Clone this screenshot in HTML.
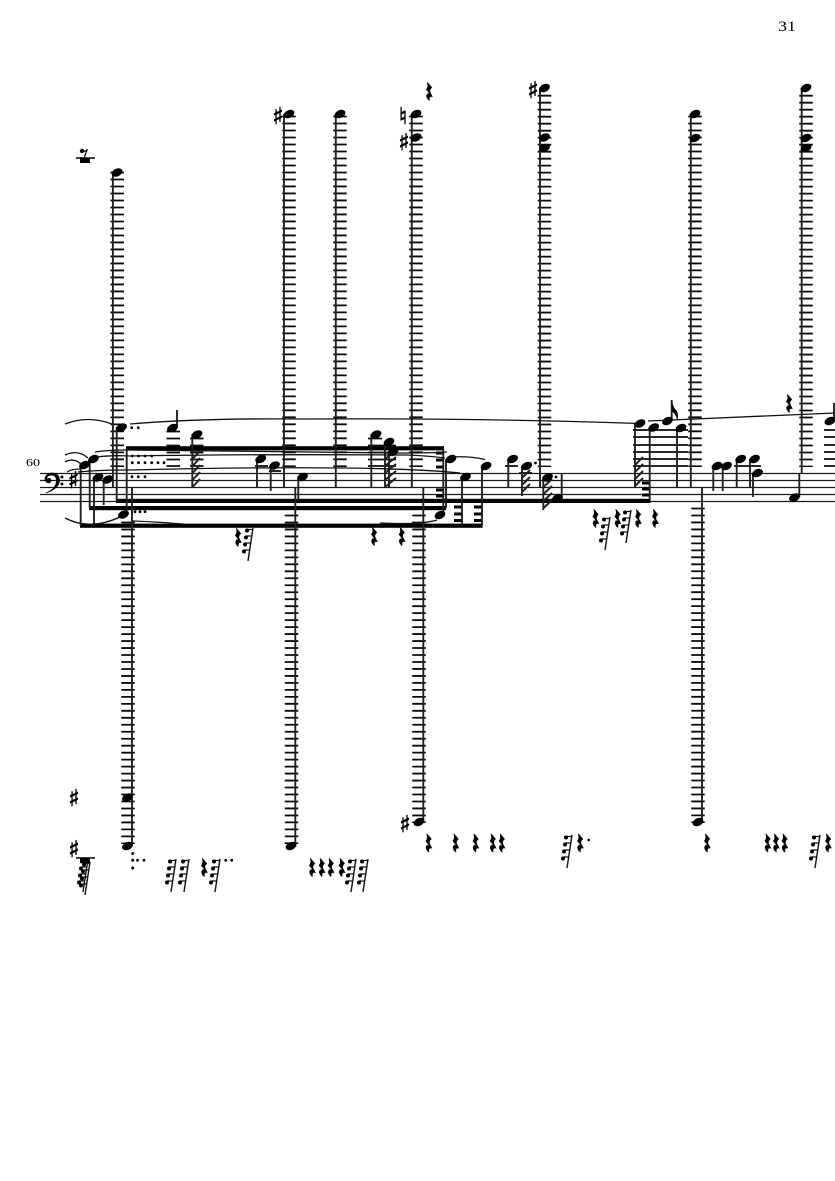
<!DOCTYPE html>
<html>
<head>
<meta charset="utf-8">
<style>
html,body{margin:0;padding:0;background:#fff;}
svg{display:block;}
.stem{stroke:#222;stroke-width:1.9;fill:none;}
.up{stroke:#0a0a0a;stroke-width:13.5;stroke-dasharray:1.8 5.196;fill:none;}
.lo{stroke:#0a0a0a;stroke-width:13.5;stroke-dasharray:1.8 5.175;fill:none;}
.led{stroke:#0a0a0a;stroke-width:1.7;fill:none;}
.staff{stroke:#1a1a1a;stroke-width:1.2;fill:none;}
.slur{fill:none;stroke:#111;stroke-width:1.3;}
.hatch{stroke:#222;stroke-width:2;fill:none;}
.acc{font-family:"DejaVu Sans",sans-serif;font-size:23px;fill:#000;stroke:#000;stroke-width:.7;text-anchor:middle;}
.num{font-family:"Liberation Serif",serif;fill:#000;}
</style>
</head>
<body>
<svg width="835" height="1181" viewBox="0 0 835 1181" xmlns="http://www.w3.org/2000/svg">
<defs>
<ellipse id="h" cx="0" cy="0" rx="5.7" ry="3.8" transform="rotate(-25)"/>
<path id="r" d="M-1.5-9 L3.2-3.5 Q0.3-1 1.5 1.5 L3.8 6 Q-0.3 4.8 0.8 9.5 L0 9.8 Q-4.2 6-1.8 2.6 Q-0.6 2 0.6 3 L-3-1.5 Q-0.6-4-2-8.5Z"/>
<g id="s">
<path d="M4 0 L-1 33" stroke="#111" stroke-width="1.4" fill="none"/>
<path d="M-2 1.5h6M-3 8h6M-4 15h6M-5 22h6" stroke="#111" stroke-width="1.2" fill="none"/>
<circle cx="-2" cy="2.5" r="2"/><circle cx="-3" cy="9.5" r="2"/><circle cx="-4" cy="16.5" r="2"/><circle cx="-5" cy="23.5" r="2"/>
</g>
</defs>
<rect width="835" height="1181" fill="#fff"/>

<text class="num" x="778" y="31" font-size="15" textLength="18" lengthAdjust="spacingAndGlyphs">31</text>
<text class="num" x="26" y="466" font-size="11" textLength="14" lengthAdjust="spacingAndGlyphs">60</text>

<path class="staff" d="M40 473.5H835M40 480.5H835M40 487.5H835M40 494.5H835M40 501.5H835"/>

<path stroke="#000" stroke-width=".8" d="M46 493 Q56 489 56.5 481 Q56.5 475 51 475 Q46.5 475.5 46.5 479.5 Q48.5 477.5 50.5 479 Q52 481.5 49 483 Q45 482.5 45 478.5 Q46.5 473 52 473 Q59.5 473.5 59.5 480.5 Q59 488.5 46 493Z"/>
<circle cx="62" cy="477" r="1.5"/><circle cx="62" cy="484" r="1.5"/>
<text class="acc" x="73.5" y="488">♯</text>

<path class="up" d="M117.2 171.6V467M289 115.6V467M340 115.6V467M416 115.6V467M544.5 94.8V467M695 115.6V467M806 94.8V467"/>
<path class="lo" d="M128 521.6V844M291.5 514.6V844M419 514.6V823M698 507.6V823"/>

<path class="led" d="M166.5 431.5H180M166.5 438.5H180M166.5 445.5H180M166.5 446.5H180M166.5 452.5H180M166.5 459.5H180M166.5 466H180"/>
<path class="led" d="M190 438.5H203.5M190 445.5H203.5M190 452.5H203.5M190 459.5H203.5M190 466H203.5"/>
<path class="led" d="M255 466H268M269 471H281"/>
<path class="led" d="M368 438.5H382M368 445.5H382M368 452.5H382M368 459.5H382M368 466H382"/>
<path class="led" d="M382 445.5H396M382 452.5H396M382 459.5H396M382 466H396"/>
<path class="led" d="M505 466H518M519 473H532"/>
<path class="led" d="M633 430H688M633 437H688M633 445H688M633 452H688M633 459H688M633 466H688"/>
<path class="led" d="M734 466H761"/>
<path class="led" d="M824 430H835M824 437H835M824 445H835M824 452H835M824 459H835M824 466H835"/>

<rect x="116" y="498.8" width="534.5" height="4.2"/>
<rect x="89" y="506" width="357" height="4.2"/>
<rect x="80" y="523.6" width="402.5" height="4.2"/>
<rect x="126" y="446.2" width="318" height="4.2"/>

<path d="M436 451.5h7.5v3h-7.5zM436 458.5h7.5v3h-7.5zM436 465.5h7.5v3h-7.5zM436 488.5h7.5v3h-7.5zM436 494.5h7.5v3h-7.5z"/>
<path d="M454 505.5h7.7v3h-7.7zM454 512.5h7.7v3h-7.7zM454 519h7.7v3h-7.7z"/>
<path d="M474 505.5h7.7v3h-7.7zM474 512.5h7.7v3h-7.7zM474 519h7.7v3h-7.7z"/>
<path d="M642 481.5h8v3h-8zM642 487.5h8v3h-8zM642 493.5h8v3h-8z"/>

<path class="stem" d="M80.7 465V526M89.7 459V508M94 477V526M103.7 479V505M112.9 172V487M116.7 427V501M126.7 448V515M132 487V846M177 428V410M192.3 434V487M257 459V487M270.7 465V491M284 114V487M295.3 487V846M298.3 477V501M335.8 114V487M371.3 434V487M385 442V487M389 452V487M411.8 114V487M423.3 487V822M443.3 448V515M446 459V508M462 477V526M482 466V526M508.3 459V487M522 466V496M540 88V487M543.3 477V510M561.7 473V499M635 423V487M649.7 428V500M671.7 421V400M677 428V487M690.8 114V487M702 487V822M713.3 466V491M722.7 466V491M736.7 459V487M750 459V487M753 473V497M799.3 497V473M801.7 88V473M834 421V403"/>
<path d="M671.7 400 Q673 408 677 411 Q679 416 677 421 Q677 415 671.7 411Z"/>

<path class="hatch" d="M192.5 459L200 451M192.5 466L200 458M192.5 473L200 465M192.5 480L200 472M192.5 487L200 479"/>
<path class="hatch" d="M385 459L396 450M385 466L396 457M385 473L396 464M385 480L396 471M385 487L396 478"/>
<path class="hatch" d="M522 478L530 470M522 485L530 477M522 492L530 484"/>
<path class="hatch" d="M543.5 487L552 479M543.5 494L552 486M543.5 501L552 493M543.5 508L552 500"/>
<path class="hatch" d="M635 465L643 457M635 472L643 464M635 479L643 471M635 486L643 478"/>

<g fill="#000">
<use href="#h" x="84.5" y="465"/><use href="#h" x="93.5" y="459"/><use href="#h" x="98" y="477.5"/><use href="#h" x="107.7" y="479.5"/>
<use href="#h" x="117" y="172.5"/><use href="#h" x="121.5" y="427.5"/><use href="#h" x="123.5" y="514.5"/><use href="#h" x="127.5" y="797.5"/>
<use href="#h" x="127.5" y="846"/><use href="#h" x="172.5" y="428"/><use href="#h" x="197" y="434.5"/><use href="#h" x="260.7" y="459"/>
<use href="#h" x="274.5" y="465.5"/><use href="#h" x="289" y="114"/><use href="#h" x="291" y="846"/><use href="#h" x="302.5" y="477"/>
<use href="#h" x="340" y="114"/><use href="#h" x="376" y="434.5"/><use href="#h" x="389" y="442"/><use href="#h" x="393" y="452"/>
<use href="#h" x="416" y="114"/><use href="#h" x="416" y="137.5"/><use href="#h" x="419" y="822"/><use href="#h" x="440" y="515"/>
<use href="#h" x="451" y="459"/><use href="#h" x="465.5" y="477"/><use href="#h" x="486" y="466"/><use href="#h" x="512.5" y="459"/>
<use href="#h" x="526.7" y="466"/><use href="#h" x="544.5" y="88"/><use href="#h" x="544.5" y="137.5"/><use href="#h" x="544.5" y="148"/>
<use href="#h" x="547.5" y="477.5"/><use href="#h" x="557.5" y="498"/><use href="#h" x="640" y="423.5"/><use href="#h" x="653.7" y="427.5"/>
<use href="#h" x="667.5" y="421"/><use href="#h" x="681" y="428"/><use href="#h" x="695" y="114"/><use href="#h" x="695" y="138"/>
<use href="#h" x="698" y="822"/><use href="#h" x="717" y="466"/><use href="#h" x="726.5" y="466"/><use href="#h" x="740.7" y="459"/>
<use href="#h" x="754.5" y="459"/><use href="#h" x="757.5" y="473"/><use href="#h" x="794.5" y="497.5"/><use href="#h" x="806" y="88"/>
<use href="#h" x="806" y="138"/><use href="#h" x="806" y="148"/><use href="#h" x="830" y="421"/>
</g>

<g fill="#000">
<circle cx="131.7" cy="427.7" r="1.4"/><circle cx="138.3" cy="427.7" r="1.4"/>
<circle cx="132.3" cy="456" r="1.4"/><circle cx="138.5" cy="456" r="1.4"/><circle cx="145" cy="456" r="1.4"/><circle cx="151.7" cy="456" r="1.4"/>
<circle cx="132.3" cy="462.7" r="1.4"/><circle cx="138.5" cy="462.7" r="1.4"/><circle cx="145" cy="462.7" r="1.4"/><circle cx="151.7" cy="462.7" r="1.4"/><circle cx="158" cy="462.7" r="1.4"/><circle cx="164" cy="462.7" r="1.4"/>
<circle cx="132" cy="476.7" r="1.4"/><circle cx="138.3" cy="476.7" r="1.4"/><circle cx="145" cy="476.7" r="1.4"/>
<circle cx="135" cy="511.7" r="1.4"/><circle cx="140" cy="511.7" r="1.4"/><circle cx="145" cy="511.7" r="1.4"/>
<circle cx="535.5" cy="463" r="1.4"/><circle cx="556" cy="477" r="1.4"/><circle cx="588.7" cy="840" r="1.4"/>
<circle cx="132.7" cy="853.5" r="1.5"/><circle cx="132.7" cy="860.3" r="1.5"/><circle cx="132.7" cy="868" r="1.5"/><circle cx="137.5" cy="860.3" r="1.4"/><circle cx="144" cy="860.3" r="1.4"/>
<circle cx="225.7" cy="860.3" r="1.4"/><circle cx="231.7" cy="860.3" r="1.4"/>
</g>

<path class="slur" d="M65 424 Q88 415 112 424"/>
<path class="slur" d="M65 455 Q78 449 88 458"/>
<path class="slur" d="M65 462 Q74 457 82 465"/>
<path class="slur" d="M67 472 Q72 469 80 469"/>
<path class="slur" d="M130 424 Q200 418 300 419 Q480 418 640 423.5"/>
<path class="slur" d="M648 421 Q740 417 835 413"/>
<path class="slur" d="M95 452 Q108 450 127 450 Q260 452 400 453 Q430 453 447 452"/>
<path class="slur" d="M450 457 Q470 456 485 459.5"/>
<path class="slur" d="M78 472 Q100 470 130 470 Q250 467 347 468 Q420 469 460 473"/>
<path class="slur" d="M97 457 Q110 455 130 456 Q260 454 407 455 Q430 456 445 458"/>
<path class="slur" d="M65 518 Q90 531 120 517"/>
<path class="slur" d="M133 521 Q160 522 183 524"/>
<path class="slur" d="M380 523 Q420 525 437 520"/>

<path d="M76 158H95" stroke="#000" stroke-width="1.5"/>
<rect x="80" y="158" width="10" height="5"/>
<circle cx="82" cy="151" r="2.2"/>
<path d="M83 152 L87 150 L84 158" fill="none" stroke="#000" stroke-width="1.2"/>

<text class="acc" x="278" y="124">♯</text>
<text class="acc" x="404" y="150">♯</text>
<text class="acc" x="403" y="124">♮</text>
<text class="acc" x="533" y="98">♯</text>
<text class="acc" x="74" y="806">♯</text>
<text class="acc" x="74" y="857">♯</text>
<text class="acc" x="405" y="832">♯</text>

<g fill="#000">
<use href="#r" x="429" y="91"/><use href="#r" x="789" y="403"/><use href="#r" x="238" y="537"/><use href="#r" x="374" y="536"/>
<use href="#r" x="401.7" y="536"/><use href="#r" x="595.5" y="518"/><use href="#r" x="617.5" y="518"/><use href="#r" x="638" y="518"/>
<use href="#r" x="655" y="518"/><use href="#r" x="428.5" y="842.5"/><use href="#r" x="455.5" y="842.5"/><use href="#r" x="475.5" y="842.5"/>
<use href="#r" x="492.7" y="842.5"/><use href="#r" x="501.7" y="842.5"/><use href="#r" x="580" y="842.5"/><use href="#r" x="707" y="842.5"/>
<use href="#r" x="767.5" y="842.5"/><use href="#r" x="776" y="842.5"/><use href="#r" x="784.5" y="842.5"/><use href="#r" x="828" y="842.5"/>
<use href="#r" x="204" y="867"/><use href="#r" x="312" y="867"/><use href="#r" x="321.7" y="867"/><use href="#r" x="330.7" y="867"/>
<use href="#r" x="341.7" y="867"/>
<use href="#s" x="249" y="528"/><use href="#s" x="606" y="517"/><use href="#s" x="627" y="510"/><use href="#s" x="568" y="835"/>
<use href="#s" x="816" y="835"/><use href="#s" x="172" y="859"/><use href="#s" x="185" y="859"/><use href="#s" x="216" y="859"/>
<use href="#s" x="352" y="859"/><use href="#s" x="364" y="859"/><use href="#s" x="84" y="859"/><use href="#s" x="86" y="862"/>
</g>
<path d="M76 858H95" stroke="#000" stroke-width="1.5"/>
<rect x="80" y="858" width="10" height="5"/>
</svg>
</body>
</html>
